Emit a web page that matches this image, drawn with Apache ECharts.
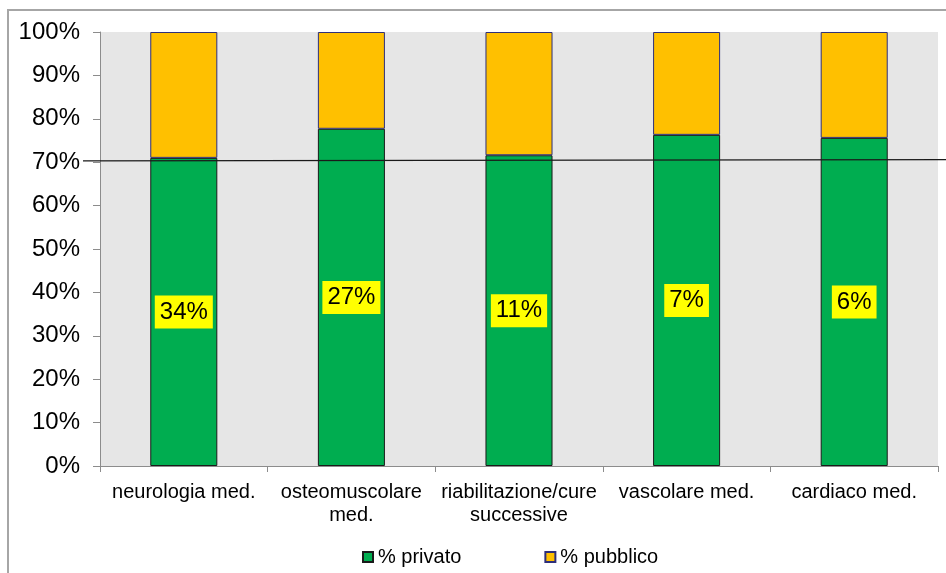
<!DOCTYPE html>
<html>
<head>
<meta charset="utf-8">
<script src="https://cdn.jsdelivr.net/npm/echarts@6/dist/echarts.min.js"></script>
<style>
  html, body { margin: 0; padding: 0; background: #ffffff; }
  #chart { width: 946px; height: 573px; }
</style>
</head>
<body>
<div id="chart"></div>
<script>
// Categories (MDC groups)
const categories = [
  'neurologia med.',
  'osteomuscolare\nmed.',
  'riabilitazione/cure\nsuccessive',
  'vascolare med.',
  'cardiaco med.'
];
// Share of private vs public providers, in percent
const privato = [71.0, 77.7, 71.6, 76.3, 75.6];
const pubblico = [29.0, 22.3, 28.4, 23.7, 24.4];
// Weight of each group, shown inside the private bars
const quota = ['34%', '27%', '11%', '7%', '6%'];
// Reference level drawn across the plot
const soglia = [70.4];
// Y axis range and step
const yTicks = [0, 100, 10];

const FONT = '"Liberation Sans", Arial, sans-serif';
const chart = echarts.init(document.getElementById('chart'), null, { renderer: 'canvas' });

const option = {
  backgroundColor: '#ffffff',
  animation: false,
  textStyle: { fontFamily: FONT },
  grid: {
    left: 100, right: 8, top: 32, bottom: 107,
    show: true, backgroundColor: '#e6e6e6', borderWidth: 0
  },
  legend: {
    left: 362, top: 547, padding: 0,
    itemWidth: 10, itemHeight: 10, itemGap: 83,
    icon: 'rect',
    textStyle: { fontSize: 20, color: '#000', fontFamily: FONT },
    data: ['% privato', '% pubblico']
  },
  xAxis: {
    type: 'category',
    data: categories,
    axisLine: { lineStyle: { color: '#8c8c8c', width: 1 } },
    axisTick: { show: true, length: 6, alignWithLabel: false, lineStyle: { color: '#8c8c8c' } },
    axisLabel: {
      interval: 0, margin: 15, fontSize: 20, lineHeight: 23,
      color: '#000', fontFamily: FONT
    },
    splitLine: { show: false }
  },
  yAxis: {
    type: 'value',
    min: yTicks[0], max: yTicks[1], interval: yTicks[2],
    axisLine: { show: true, lineStyle: { color: '#8c8c8c', width: 1 } },
    axisTick: { show: true, length: 7, lineStyle: { color: '#8c8c8c' } },
    axisLabel: {
      margin: 20, fontSize: 24, color: '#000', fontFamily: FONT,
      formatter: '{value}%'
    },
    splitLine: { show: false }
  },
  series: [
    {
      name: '% privato',
      type: 'bar',
      stack: 'tot',
      barWidth: '40%',
      data: privato,
      itemStyle: { color: '#00ad50', borderColor: '#1a1a1a', borderWidth: 1 },
      label: {
        show: true,
        position: 'inside',
        formatter: p => quota[p.dataIndex],
        fontSize: 24,
        color: '#000',
        fontFamily: FONT,
        backgroundColor: '#ffff00',
        padding: [5, 5, 4, 5]
      }
    },
    {
      name: '% pubblico',
      type: 'bar',
      stack: 'tot',
      barWidth: '40%',
      data: pubblico,
      itemStyle: { color: '#ffc000', borderColor: '#2e2f7a', borderWidth: 1 }
    }
  ]
};

chart.setOption(option);

// Outer frame and the reference line, placed from the axis scale
function drawOverlay() {
  const y = chart.convertToPixel({ yAxisIndex: 0 }, soglia[0]);
  chart.setOption({
    graphic: [
      {
        type: 'rect', silent: true, z: 0,
        shape: { x: 8, y: 10, width: 960, height: 600 },
        style: { fill: 'none', stroke: '#a6a6a6', lineWidth: 2 }
      },
      {
        type: 'line', silent: true, z: 100,
        shape: { x1: 83, y1: y + 0.5, x2: 946, y2: y - 0.8 },
        style: { stroke: '#1a1a1a', lineWidth: 1.3 }
      }
    ]
  });
}
drawOverlay();
</script>
</body>
</html>
